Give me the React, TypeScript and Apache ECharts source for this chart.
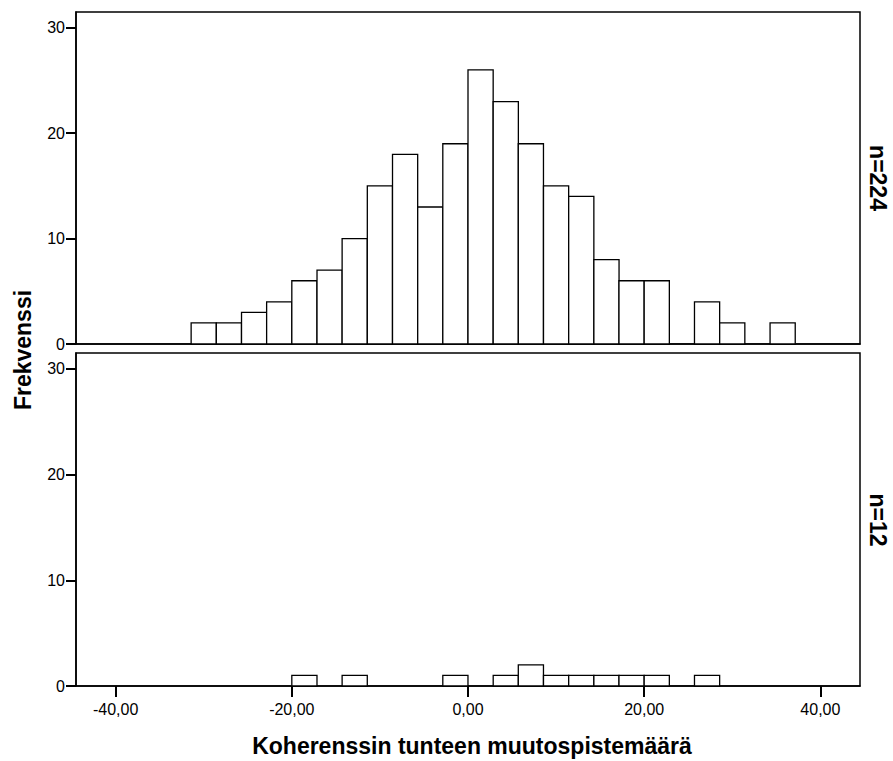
import React, { useEffect, useRef } from "react";
import * as echarts from "echarts";

// Histogram bin left edges (x units) and common bin width
const binStarts = [
  -31.43, -28.57, -25.71, -22.86, -20.0, -17.14, -14.29, -11.43, -8.57, -5.71,
  -2.86, 0.0, 2.86, 5.71, 8.57, 11.43, 14.29, 17.14, 20.0, 22.86, 25.71, 28.57,
  31.43, 34.29,
];
const binWidth = 2.857;

// Frequencies, group n=224 (top panel)
const topCounts = [2, 2, 3, 4, 6, 7, 10, 15, 18, 13, 19, 26, 23, 19, 15, 14, 8, 6, 6, 0, 4, 2, 0, 2];
// Frequencies, group n=12 (bottom panel)
const bottomCounts = [0, 0, 0, 0, 1, 0, 1, 0, 0, 0, 1, 0, 1, 2, 1, 1, 1, 1, 1, 0, 1, 0, 0, 0];

const xTickValues = [-40, -20, 0, 20, 40];
const yTickValues = [0, 10, 20, 30];
const panelLabels = ["n=224", "n=12"];
const xTitle = "Koherenssin tunteen muutospistemäärä";
const yTitle = "Frekvenssi";

const FONT = "'Liberation Sans', Arial, Helvetica, sans-serif";

function toData(counts: number[]) {
  return counts
    .map((c, i) => [binStarts[i], binStarts[i] + binWidth, c])
    .filter((d) => d[2] > 0);
}

function renderBar(params: any, api: any) {
  const p0 = api.coord([api.value(0), api.value(2)]);
  const p1 = api.coord([api.value(1), 0]);
  return {
    type: "rect",
    shape: { x: p0[0], y: p0[1], width: p1[0] - p0[0], height: p1[1] - p0[1] },
    style: { fill: "#ffffff", stroke: "#000000", lineWidth: 1.3 },
  };
}

export default function App() {
  const ref = useRef<HTMLDivElement>(null);
  useEffect(() => {
    if (!ref.current) return;
    const chart = echarts.init(ref.current, null, { renderer: "svg" });
    const xAxisBase = (gridIndex: number, showLabels: boolean) => ({
      type: "value",
      gridIndex,
      min: -44.5,
      max: 44.5,
      splitLine: { show: false },
      axisLine: { show: true, onZero: false, lineStyle: { color: "#000", width: 1.5 } },
      axisTick: {
        show: showLabels,
        customValues: xTickValues,
        length: 11,
        lineStyle: { color: "#000", width: 2 },
      },
      axisLabel: {
        show: showLabels,
        customValues: xTickValues,
        formatter: (v: number) => v.toFixed(2).replace(".", ","),
        fontSize: 16,
        color: "#000",
        fontFamily: FONT,
        margin: 15,
      },
    });
    const yAxisBase = (gridIndex: number) => ({
      type: "value",
      gridIndex,
      min: 0,
      max: 31.5,
      splitLine: { show: false },
      axisLine: { show: true, onZero: false, lineStyle: { color: "#000", width: 1.5 } },
      axisTick: {
        show: true,
        customValues: yTickValues,
        length: 10,
        lineStyle: { color: "#000", width: 2 },
      },
      axisLabel: {
        customValues: yTickValues,
        fontSize: 16,
        color: "#000",
        fontFamily: FONT,
        margin: 11,
      },
    });
    const option: any = {
      animation: false,
      backgroundColor: "#ffffff",
      grid: [
        { left: 76, width: 784, top: 12, height: 332, show: true, borderColor: "#000", borderWidth: 1.5, backgroundColor: "transparent" },
        { left: 76, width: 784, top: 353, height: 333, show: true, borderColor: "#000", borderWidth: 1.5, backgroundColor: "transparent" },
      ],
      xAxis: [xAxisBase(0, false), xAxisBase(1, true)],
      yAxis: [yAxisBase(0), yAxisBase(1)],
      series: [
        {
          type: "custom",
          xAxisIndex: 0,
          yAxisIndex: 0,
          renderItem: renderBar,
          encode: { x: [0, 1], y: 2 },
          data: toData(topCounts),
        },
        {
          type: "custom",
          xAxisIndex: 1,
          yAxisIndex: 1,
          renderItem: renderBar,
          encode: { x: [0, 1], y: 2 },
          data: toData(bottomCounts),
        },
      ],
      graphic: [
        {
          type: "text",
          x: 472,
          y: 746,
          style: { text: xTitle, fontSize: 23, fontWeight: "bold", fontFamily: FONT, fill: "#000", align: "center", verticalAlign: "middle" },
        },
        {
          type: "text",
          x: 23,
          y: 350,
          rotation: Math.PI / 2,
          style: { text: yTitle, fontSize: 23, fontWeight: "bold", fontFamily: FONT, fill: "#000", align: "center", verticalAlign: "middle" },
        },
        {
          type: "text",
          x: 878,
          y: 178,
          rotation: -Math.PI / 2,
          style: { text: panelLabels[0], fontSize: 23, fontWeight: "bold", fontFamily: FONT, fill: "#000", align: "center", verticalAlign: "middle" },
        },
        {
          type: "text",
          x: 878,
          y: 520,
          rotation: -Math.PI / 2,
          style: { text: panelLabels[1], fontSize: 23, fontWeight: "bold", fontFamily: FONT, fill: "#000", align: "center", verticalAlign: "middle" },
        },
      ],
    };
    chart.setOption(option);
    return () => chart.dispose();
  }, []);
  return (
    <div
      ref={ref}
      style={{ position: "fixed", left: 0, top: 0, width: 893, height: 761, background: "#fff" }}
    />
  );
}
